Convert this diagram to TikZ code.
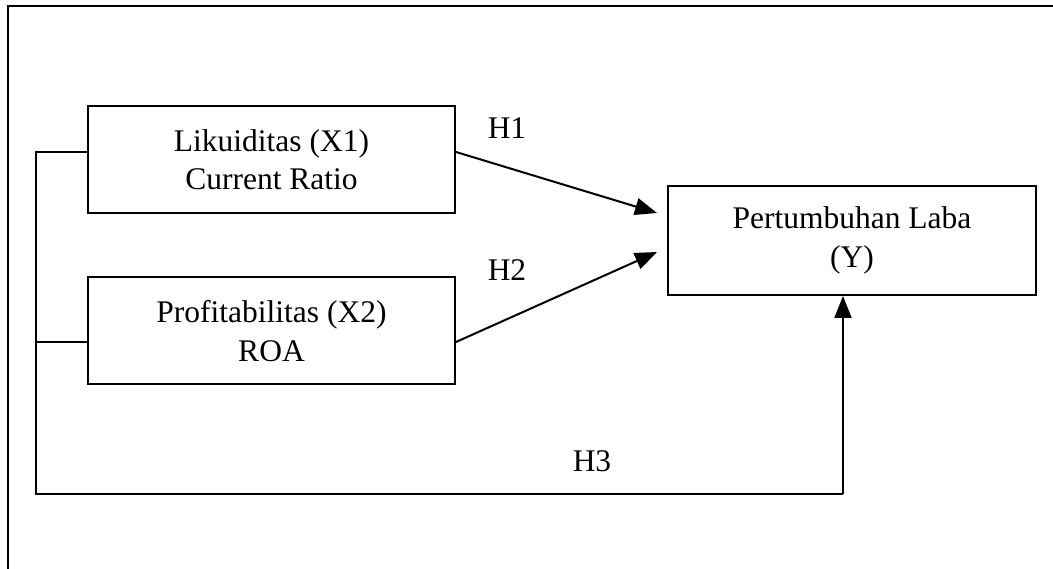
\documentclass[tikz,border=0pt]{standalone}
\usepackage{fontspec}
\setmainfont{Liberation Serif}
\usetikzlibrary{arrows.meta,calc}
\begin{document}
\begin{tikzpicture}[x=1pt,y=-1pt,
  line width=2pt,
  varbox/.style={draw,line width=2pt,minimum width=367pt,minimum height=107pt,inner sep=0pt,align=center,
    font=\fontsize{31.5}{38.5}\selectfont},
  lbl/.style={font=\fontsize{31.5}{38.5}\selectfont,inner sep=0pt},
  arr/.style={-{Triangle[length=22pt,width=17pt]}}]
\useasboundingbox (0,0) rectangle (1053,569);
\draw (1053,6) -- (8,6) -- (8,569);
\node[varbox] (X1) at (271.5,159.5) {Likuiditas (X1)\\Current Ratio};
\node[varbox] (X2) at (271.5,331) {Profitabilitas (X2)\\ROA};
\node[varbox,minimum width=368pt,minimum height=109pt] (Y) at (852,240.5) {Pertumbuhan Laba\\(Y)};
\node[lbl] (H1) at (507,128) {H1};
\node[lbl] (H2) at (507,270) {H2};
\node[lbl] (H3) at (592,461) {H3};
\coordinate (b1) at (36,152);
\coordinate (b2) at (36,342);
\coordinate (b3) at (36,494);
\coordinate (b4) at (843,494);
\coordinate (t1) at (657,213);
\coordinate (t2) at (657,252);
\draw (X1.west |- b1) -- (b1) -- (b3) -- (b4);
\draw (X2.west |- b2) -- (b2);
\draw[arr] (b4) -- (b4 |- Y.south);
\draw[arr] (X1.east |- b1) -- (t1);
\draw[arr] (X2.east |- b2) -- (t2);
\end{tikzpicture}
\end{document}
